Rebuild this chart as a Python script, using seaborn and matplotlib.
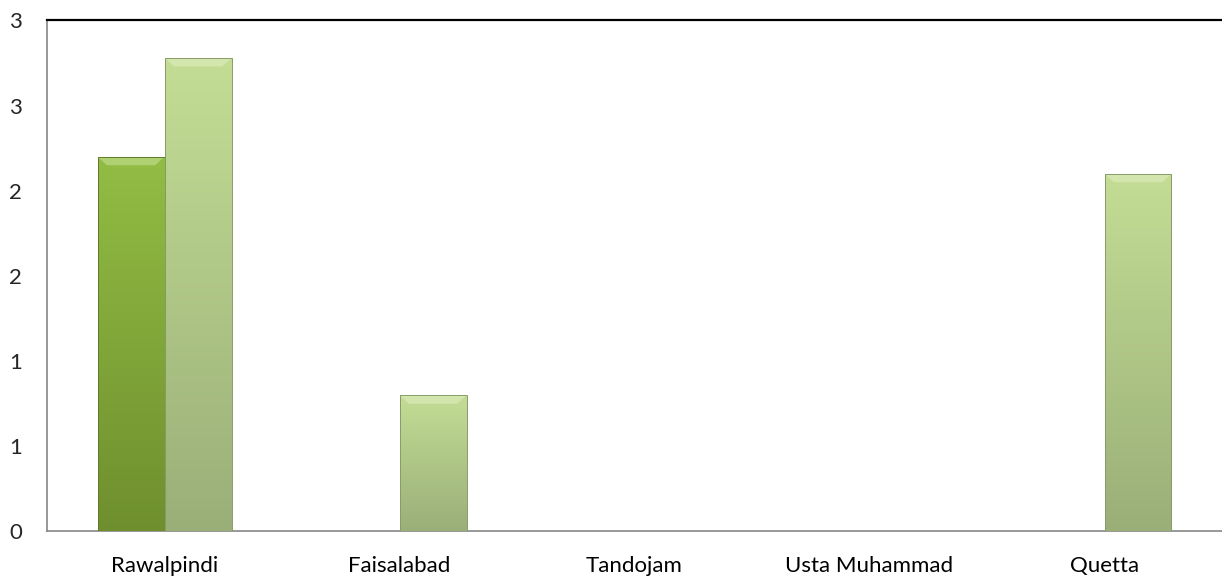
import numpy as np
import pandas as pd
import matplotlib
matplotlib.use('Agg')
import matplotlib.pyplot as plt
import seaborn as sns
from matplotlib.colors import LinearSegmentedColormap

cities = ['Rawalpindi', 'Faisalabad', 'Tandojam', 'Usta Muhammad', 'Quetta']
series_a = [2.2, 0, 0, 0, 0]
series_b = [2.78, 0.8, 0, 0, 2.1]
y_ticks = [0, 0.5, 1, 1.5, 2, 2.5, 3]
y_tick_labels = ['0', '1', '1', '2', '2', '3', '3']

df = pd.DataFrame({
    'city': cities * 2,
    'series': ['A'] * len(cities) + ['B'] * len(cities),
    'value': series_a + series_b,
})

# top / bottom colours for each series gradient
grad = {'A': ('#92bd44', '#6f8f2e'), 'B': ('#c3dd95', '#9aaf78')}
edge = {'A': '#5f7a28', 'B': '#879c68'}

sns.set_style('white')
plt.rcParams['font.family'] = ['Lato', 'DejaVu Sans']

fig = plt.figure(figsize=(12.22, 5.77), dpi=100)
ax = fig.add_axes([0.0385, 0.079, 0.9615, 0.8855])

sns.barplot(data=df, x='city', y='value', hue='series', order=cities,
            hue_order=['A', 'B'], palette={k: v[1] for k, v in grad.items()},
            width=0.57, gap=0, dodge=True, legend=False, ax=ax,
            edgecolor='none', linewidth=0)

n = len(cities)
for i, p in enumerate(ax.patches[:2 * n]):
    key = 'A' if i < n else 'B'
    h = p.get_height()
    if h <= 0:
        p.set_visible(False)
        continue
    x, w = p.get_x(), p.get_width()
    cmap = LinearSegmentedColormap.from_list('g', [grad[key][1], grad[key][0]])
    g = np.linspace(0, 1, 256).reshape(-1, 1)
    im = ax.imshow(g, cmap=cmap, origin='lower', aspect='auto',
                   extent=[x, x + w, 0, h], zorder=3)
    im.set_clip_path(p)
    # bevel highlight at top
    ax.add_patch(plt.Polygon([[x, h], [x + w, h], [x + w * 0.86, h - 0.05],
                              [x + w * 0.14, h - 0.05]], closed=True,
                             facecolor='#fbffe8', alpha=0.3, lw=0, zorder=4))
    ax.add_patch(plt.Rectangle((x, 0), w, h, fill=False, edgecolor=edge[key],
                               lw=0.7, zorder=5))

ax.set_xlim(-0.5, n - 0.5)
ax.set_ylim(0, 3)
ax.set_yticks(y_ticks)
ax.set_yticklabels(y_tick_labels)
ax.set_xticks(range(n))
ax.set_xticklabels(cities)
ax.set_xticks(np.arange(-0.5, n, 1.0), minor=True)
ax.set_xlabel('')
ax.set_ylabel('')

ax.tick_params(axis='x', which='major', length=0, pad=18, labelsize=16, colors='black')
ax.tick_params(axis='x', which='minor', length=7, color='#868686', width=1, direction='out')
ax.tick_params(axis='y', length=7, color='#868686', width=1, direction='out',
               labelsize=16, pad=11)

for s in ['left', 'bottom']:
    ax.spines[s].set_color('#868686')
    ax.spines[s].set_linewidth(1.2)
ax.spines['right'].set_visible(False)
ax.spines['top'].set_color('black')
ax.spines['top'].set_linewidth(1.6)

fig.savefig('out.png', dpi=100)
